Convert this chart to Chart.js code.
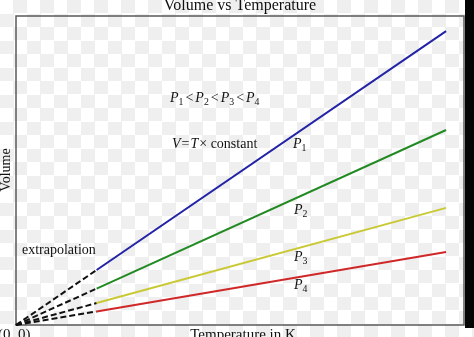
<!DOCTYPE html>
<html>
<head>
<meta charset="utf-8">
<script src="https://cdn.jsdelivr.net/npm/chart.js@4.4.1/dist/chart.umd.min.js"></script>
<style>
  html, body { margin: 0; padding: 0; }
  body {
    width: 474px; height: 337px; overflow: hidden; position: relative;
    background: repeating-conic-gradient(#efefef 0 25%, #ffffff 0 50%) 0 0 / 27px 27px;
  }
  #chart { position: absolute; left: 0; top: 0; }
  .edge { position: absolute; left: 465px; top: 0; width: 9px; height: 328px; background: #050505; }
</style>
</head>
<body>
<canvas id="chart" width="474" height="337"></canvas>
<div class="edge"></div>
<script>
/* ---------- Data ---------- */
// temperature points: origin, end of extrapolation, end of measured line
const temps = [0, 18, 96];
const p1 = [0, 17.8, 95.1];
const p2 = [0, 11.8, 63.1];
const p3 = [0, 7.1, 37.9];
const p4 = [0, 4.4, 23.6];
const seriesNames = ['P1', 'P2', 'P3', 'P4'];
const COLORS = ['#2323a6', '#228a22', '#c9c935', '#d02828'];

const SERIF = "'Liberation Serif', 'DejaVu Serif', serif";

(() => {
  const series = [p1, p2, p3, p4];

  /* draw runs of text: [text, italic?, subscript?, gap after] */
  function runs(ctx, x, y, parts, size) {
    ctx.textBaseline = 'alphabetic';
    ctx.textAlign = 'left';
    for (const [t, it, sub, gap] of parts) {
      const s = sub ? size * 0.7 : size;
      ctx.font = `${it ? 'italic ' : ''}${s}px ${SERIF}`;
      ctx.fillText(t, x, sub ? y + 3 : y);
      x += ctx.measureText(t).width + (gap || 0);
    }
  }

  const labels = {
    id: 'labels',
    beforeDraw(chart) {
      const { ctx, chartArea: a } = chart;
      ctx.save();
      ctx.strokeStyle = '#5a5a5a';
      ctx.lineWidth = 1.5;
      ctx.strokeRect(a.left, a.top, a.right - a.left, a.bottom - a.top);
      ctx.restore();
    },
    afterDraw(chart) {
      const { ctx } = chart;
      ctx.save();
      ctx.fillStyle = '#111';
      ctx.textBaseline = 'alphabetic';

      ctx.font = `16px ${SERIF}`;
      ctx.textAlign = 'center';
      ctx.fillText('Volume vs Temperature', 240, 10);
      ctx.font = `15px ${SERIF}`;
      ctx.fillText('Temperature in K', 243, 339);
      ctx.textAlign = 'left';
      ctx.fillText('(0, 0)', -2, 339);

      ctx.save();
      ctx.translate(10, 170);
      ctx.rotate(-Math.PI / 2);
      ctx.textAlign = 'center';
      ctx.font = `14px ${SERIF}`;
      ctx.fillText('Volume', 0, 0);
      ctx.restore();

      ctx.font = `14px ${SERIF}`;
      ctx.fillText('extrapolation', 22, 254);

      runs(ctx, 170, 102, [
        ['P', 1], ['1', 0, 1, 2], ['<', 0, 0, 2], ['P', 1], ['2', 0, 1, 2], ['<', 0, 0, 2],
        ['P', 1], ['3', 0, 1, 2], ['<', 0, 0, 2], ['P', 1], ['4', 0, 1]
      ], 14);
      runs(ctx, 172, 148, [
        ['V', 1, 0, 1], ['=', 0, 0, 1], ['T', 1, 0, 1], ['×', 0], [' constant', 0]
      ], 14);

      const spots = [[293, 148], [294, 214], [294, 261], [294, 289]];
      spots.forEach(([x, y], i) => {
        runs(ctx, x, y, [['P', 1], [seriesNames[i].slice(1), 0, 1]], 14);
      });
      ctx.restore();
    }
  };

  new Chart(document.getElementById('chart'), {
    type: 'line',
    data: {
      labels: temps,
      datasets: series.map((vals, i) => ({
        label: seriesNames[i],
        data: temps.map((t, j) => ({ x: t, y: vals[j] })),
        borderColor: COLORS[i],
        borderWidth: 2,
        pointRadius: 0,
        tension: 0,
        fill: false,
        clip: false,
        segment: {
          // first segment is the dashed extrapolation to the origin
          borderColor: c => c.p0DataIndex === 0 ? '#111' : COLORS[i],
          borderDash: c => c.p0DataIndex === 0 ? [6, 3] : []
        }
      }))
    },
    options: {
      responsive: false,
      animation: false,
      layout: { padding: { left: 16, top: 16, right: 10, bottom: 12 } },
      plugins: { legend: { display: false }, tooltip: { enabled: false } },
      scales: {
        x: { type: 'linear', min: 0, max: 100, display: false },
        y: { type: 'linear', min: 0, max: 100, display: false }
      }
    },
    plugins: [labels]
  });
})();
</script>
</body>
</html>
